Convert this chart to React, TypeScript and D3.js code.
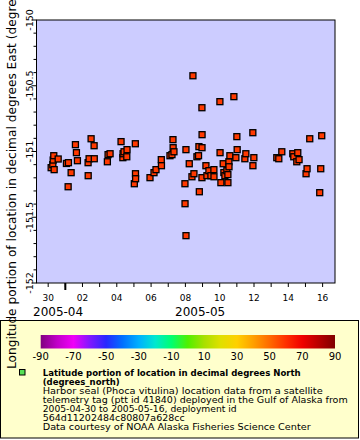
import React from "react";
import * as d3 from "d3";

// ---- data ----
const TIMES: string[] = [
  "2005-04-30T04:10", "2005-04-30T06:30", "2005-04-30T07:00", "2005-04-30T07:50", "2005-04-30T08:23", "2005-04-30T14:00",
  "2005-05-01T01:34", "2005-05-01T03:56", "2005-05-01T04:22", "2005-05-01T08:08", "2005-05-01T14:08", "2005-05-01T15:32", "2005-05-01T16:55",
  "2005-05-02T07:52", "2005-05-02T08:00", "2005-05-02T09:16", "2005-05-02T12:04", "2005-05-02T16:16", "2005-05-02T16:30",
  "2005-05-03T10:50", "2005-05-03T11:48", "2005-05-03T14:37",
  "2005-05-04T05:58", "2005-05-04T08:30", "2005-05-04T08:47", "2005-05-04T10:10", "2005-05-04T14:00", "2005-05-04T14:21",
  "2005-05-05T00:33", "2005-05-05T01:57", "2005-05-05T02:10", "2005-05-05T02:20", "2005-05-05T22:29",
  "2005-05-06T04:05", "2005-05-06T06:52", "2005-05-06T14:17", "2005-05-06T14:30",
  "2005-05-07T02:25", "2005-05-07T05:13", "2005-05-07T06:37", "2005-05-07T06:50", "2005-05-07T08:01", "2005-05-07T23:23", "2005-05-07T23:30",
  "2005-05-08T00:47", "2005-05-08T00:50", "2005-05-08T05:24", "2005-05-08T09:10", "2005-05-08T10:33", "2005-05-08T11:57", "2005-05-08T16:09",
  "2005-05-08T18:23", "2005-05-08T18:56", "2005-05-08T19:30", "2005-05-08T23:08", "2005-05-08T23:10", "2005-05-08T23:15", "2005-05-08T23:20",
  "2005-05-09T04:44", "2005-05-09T06:07", "2005-05-09T08:54", "2005-05-09T11:43", "2005-05-09T15:53", "2005-05-09T16:00",
  "2005-05-10T00:17", "2005-05-10T00:30", "2005-05-10T01:41", "2005-05-10T04:54", "2005-05-10T05:51", "2005-05-10T07:16", "2005-05-10T10:03",
  "2005-05-10T11:27", "2005-05-10T11:30", "2005-05-10T12:52", "2005-05-10T13:00", "2005-05-10T14:15", "2005-05-10T19:51", "2005-05-10T22:38",
  "2005-05-11T00:01", "2005-05-11T00:27", "2005-05-11T11:13", "2005-05-11T12:36", "2005-05-11T22:22", "2005-05-11T22:30", "2005-05-11T23:47",
  "2005-05-13T07:54", "2005-05-13T10:42", "2005-05-13T14:53",
  "2005-05-14T06:16", "2005-05-14T07:40", "2005-05-14T11:51", "2005-05-14T13:15", "2005-05-14T15:03",
  "2005-05-15T00:50", "2005-05-15T02:14", "2005-05-15T06:00", "2005-05-15T19:58", "2005-05-15T21:23", "2005-05-15T22:46",
];

const LONGITUDES: number[] = [
  -151.123, -151.1, -151.065, -151.032, -151.138, -151.057,
  -151.091, -151.268, -151.085, -151.161, -150.948, -151.009, -151.07,
  -151.085, -151.184, -151.055, -150.903, -150.956, -151.055,
  -151.078, -151.024, -151.017,
  -150.925, -151.047, -151.017, -151.002, -151.04, -150.986,
  -151.245, -150.941, -151.169, -151.207, -151.199,
  -151.161, -151.138, -151.062, -151.108,
  -151.032, -151.024, -150.91, -150.971, -151.002, -151.245, -151.397,
  -150.986, -151.64, -151.093, -151.192, -150.424, -151.169, -151.04,
  -151.032, -150.963, -151.306, -150.667, -151.199, -150.971, -150.872,
  -151.108, -151.184, -151.146, -151.184, -151.138, -151.192,
  -150.621, -151.009, -151.237, -151.093, -151.16, -151.184, -151.146,
  -151.176, -151.237, -151.078, -151.116, -151.032, -150.583, -151.047,
  -150.887, -150.986, -151.055, -151.017, -150.857, -151.108, -151.047,
  -151.047, -151.055, -151.002,
  -151.017, -151.04, -151.078, -151.009, -151.062,
  -151.169, -151.131, -150.903, -151.313, -151.131, -150.88,
];

// latitude (colour) of the points, all about the same shade
const LATITUDE = 58.5;

const TIME_DOMAIN: string[] = ["2005-04-29T07:40", "2005-05-16T17:20"];
const LON_DOMAIN: number[] = [-152, -150];
const LON_MAJOR_TICKS: number[] = [-152, -151.5, -151, -150.5, -150];
const DAY_LABELS: string[] = ["30", "02", "04", "06", "08", "10", "12", "14", "16"];
const MONTH_LABELS: string[] = ["2005-04", "2005-05"];

const COLORBAR_VALUES: number[] = [-90, -80, -70, -60, -50, -40, -30, -20, -10, 0, 10, 20, 30, 40, 50, 60, 70, 80, 90];
const COLORBAR_COLORS: string[] = [
  "#800080", "#c000c8", "#f000f8", "#8018ff", "#2828ff", "#0070ff", "#00b0ff", "#00e8d0", "#00ff70",
  "#50f000", "#a8e000", "#e0e000", "#ffd000", "#ffa000", "#ff6a00", "#ff3000", "#f00000", "#b80000", "#800000",
];
const COLORBAR_TICKS: number[] = [-90, -70, -50, -30, -10, 10, 30, 50, 70, 90];

const Y_TITLE = "Longitude portion of location in decimal degrees East (degrees_east)";
const LEGEND_TITLE: string[] = ["Latitude portion of location in decimal degrees North", "(degrees_north)"];
const LEGEND_TITLE_WIDTHS: number[] = [258, 77];
const LEGEND_LINES: string[] = [
  "Harbor seal (Phoca vitulina) location data from a satellite",
  "telemetry tag (ptt id 41840) deployed in the Gulf of Alaska from",
  "2005-04-30 to 2005-05-16, deployment id",
  "564d11202484c80807a628cc",
  "Data courtesy of NOAA Alaska Fisheries Science Center",
];
const LEGEND_LINE_WIDTHS: number[] = [280, 305, 194, 142, 268];

const FONT = "DejaVu Sans, sans-serif";

export default function App() {
  const W = 360, H = 440;
  const left = 36.5, right = 335, top = 20, bottom = 283;
  const parse = d3.utcParse("%Y-%m-%dT%H:%M");
  const x = d3.scaleUtc().domain(TIME_DOMAIN.map((s) => parse(s) as Date)).range([left, right]);
  const y = d3.scaleLinear().domain(LON_DOMAIN).range([bottom, top]);
  const color = d3.scaleLinear<string>().domain(COLORBAR_VALUES).range(COLORBAR_COLORS);
  const pts = TIMES.map((t, i) => ({ t: parse(t) as Date, lon: LONGITUDES[i] }));

  const fmtDay = d3.utcFormat("%d");
  const days = x.ticks(d3.utcDay.every(1) as any);
  const labelDays = days.filter((d) => DAY_LABELS.includes(fmtDay(d)));
  const monthStarts = x.ticks(d3.utcMonth.every(1) as any);
  const minorY = d3.range(0, 21).map((i) => LON_DOMAIN[0] + i * 0.1);

  const cbX = d3.scaleLinear().domain([-90, 90]).range([40.7, 335]);
  const mk = 6;

  return (
    <svg width={W} height={H} style={{ position: "absolute", left: 0, top: 0, background: "#fff" }} fontFamily={FONT}>
      <defs>
        <linearGradient id="cb" x1="0" x2="1" y1="0" y2="0">
          {COLORBAR_VALUES.map((v, i) => (
            <stop key={i} offset={(v + 90) / 180} stopColor={COLORBAR_COLORS[i]} />
          ))}
        </linearGradient>
        <clipPath id="plot">
          <rect x={left} y={top} width={right - left} height={bottom - top} />
        </clipPath>
      </defs>
      <rect x={0} y={0} width={W} height={H} fill="#fff" />
      {/* plot area */}
      <rect x={left} y={top} width={right - left} height={bottom - top} fill="#ccccff" />
      {/* points */}
      <g clipPath="url(#plot)">
        {pts.map((p, i) => (
          <rect
            key={i}
            x={x(p.t) - mk / 2}
            y={y(p.lon) - mk / 2}
            width={mk}
            height={mk}
            fill={color(LATITUDE)}
            stroke="#000"
            strokeWidth={1.3}
          />
        ))}
      </g>
      <rect x={left} y={top} width={right - left} height={bottom - top} fill="none" stroke="#000" strokeWidth={1} />
      {/* y ticks */}
      {minorY.map((v, i) => (
        <line key={i} x1={left - (i % 5 === 0 ? 5 : 3)} x2={left} y1={y(v)} y2={y(v)} stroke="#000" strokeWidth={1} />
      ))}
      {LON_MAJOR_TICKS.map((v) => (
        <text key={v} transform={`translate(32.5,${y(v)}) rotate(-90)`} textAnchor="middle" fontSize={9.5} fill="#000">
          {String(v)}
        </text>
      ))}
      {/* x ticks */}
      {days.map((d, i) => (
        <line key={i} x1={x(d)} x2={x(d)} y1={bottom} y2={bottom + 4} stroke="#000" strokeWidth={1} />
      ))}
      {monthStarts.map((d, i) => (
        <line key={i} x1={x(d)} x2={x(d)} y1={bottom} y2={bottom + 7} stroke="#000" strokeWidth={2} />
      ))}
      {labelDays.map((d, i) => (
        <text key={i} x={x(d)} y={301} textAnchor="middle" fontSize={9} fill="#000">
          {fmtDay(d)}
        </text>
      ))}
      <text x={33} y={316} fontSize={12} fill="#000">{MONTH_LABELS[0]}</text>
      <text x={(x(monthStarts[0]) + right) / 2} y={316} textAnchor="middle" fontSize={12} fill="#000">{MONTH_LABELS[1]}</text>
      {/* legend box */}
      <rect x={0.5} y={320.5} width={358} height={117.5} fill="#ffffcc" stroke="#000" strokeWidth={1} />
      <rect x={cbX(-90)} y={335} width={cbX(90) - cbX(-90)} height={13.5} fill="url(#cb)" />
      {COLORBAR_TICKS.map((v) => (
        <text key={v} x={cbX(v)} y={360} textAnchor="middle" fontSize={10} fill="#000">{v}</text>
      ))}
      <rect x={19.5} y={369.5} width={5.5} height={5.5} fill="#55e055" stroke="#000" strokeWidth={1} />
      {LEGEND_TITLE.map((s, i) => (
        <text key={s} x={42.7} y={376 + i * 9} fontSize={9} fontWeight="bold" fill="#000"
          textLength={LEGEND_TITLE_WIDTHS[i]} lengthAdjust="spacingAndGlyphs">{s}</text>
      ))}
      {LEGEND_LINES.map((s, i) => (
        <text key={s} x={42.7} y={394 + i * 9} fontSize={9.5} fill="#000"
          textLength={LEGEND_LINE_WIDTHS[i]} lengthAdjust="spacingAndGlyphs">{s}</text>
      ))}
      {/* y title */}
      <text transform={`translate(15.5,369) rotate(-90)`} textAnchor="start" fontSize={12.2} fill="#000">
        {Y_TITLE}
      </text>
    </svg>
  );
}
